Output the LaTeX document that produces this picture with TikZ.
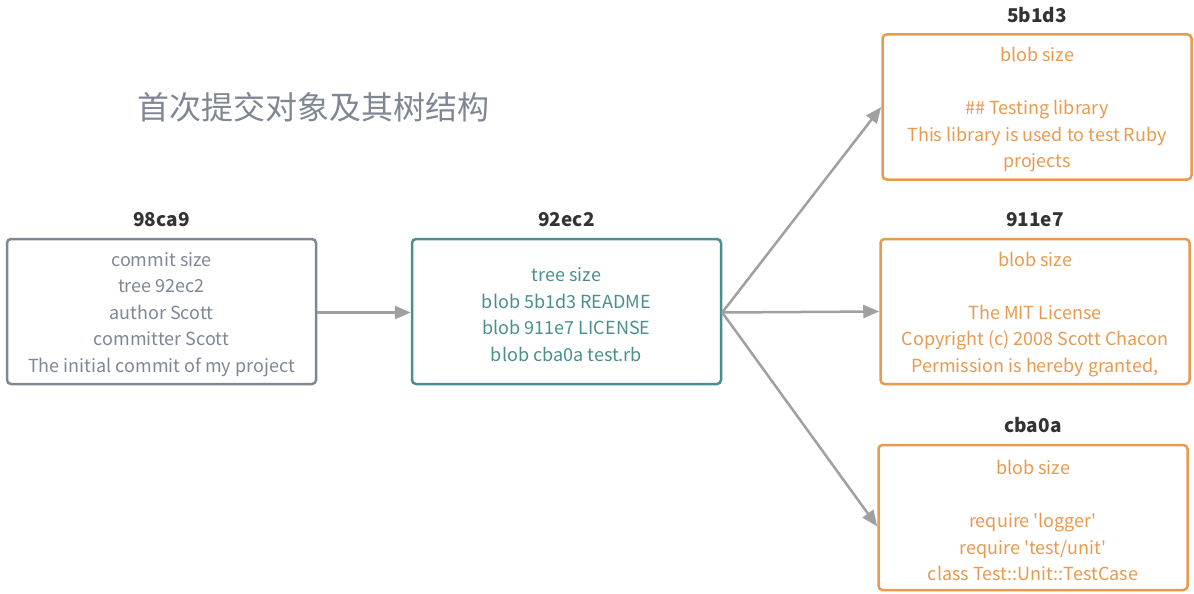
\documentclass[tikz,border=0pt]{standalone}
\usepackage{fontspec}
\setmainfont{Noto Sans CJK SC}[Ligatures=TeXOff]
\usetikzlibrary{arrows.meta,calc}
\definecolor{cgray}{HTML}{7F8794}
\definecolor{cteal}{HTML}{4A8F8F}
\definecolor{corange}{HTML}{E89A50}
\definecolor{carrow}{HTML}{A0A0A0}
\definecolor{ctitle}{HTML}{333333}
\begin{document}
\begin{tikzpicture}[x=1pt,y=-1pt,
  obj/.style={draw, rectangle, rounded corners=4pt, line width=2.5pt,
    minimum width=309pt, minimum height=145pt, inner sep=0pt, fill=white},
  commitbox/.style={obj, draw=cgray},
  treebox/.style={obj, draw=cteal},
  blobbox/.style={obj, draw=corange},
  txt/.style={inner sep=0pt, align=center, font=\fontsize{18}{26.5}\selectfont},
  ttl/.style={anchor=base, font=\fontsize{19}{22}\selectfont\bfseries, text=ctitle, inner sep=0pt},
  conn/.style={draw=carrow, line width=2.5pt, -{Triangle[length=16pt,width=13pt]}}
]
\useasboundingbox (0,0) rectangle (1194,594);
\node[commitbox] (c) at (161.5,311.5) {};
\node[treebox] (t) at (566.5,311.5) {};
\node[blobbox] (b1) at (1037,107) {};
\node[blobbox] (b2) at (1035,311.5) {};
\node[blobbox] (b3) at (1033,517.5) {};
\node[txt, text=cgray] (ct) at ([yshift=-3pt]c.center) {commit size\\tree 92ec2\\author Scott\\committer Scott\\The initial commit of my project};
\node[txt, text=cteal] (tt) at ([yshift=-3pt]t.center) {tree size\\blob 5b1d3 README\\blob 911e7 LICENSE\\blob cba0a test.rb};
\node[txt, text=corange] (b1t) at ([yshift=-3pt]b1.center) {blob size\\ \\\#\# Testing library\\This library is used to test Ruby\\projects};
\node[txt, text=corange] (b2t) at ([yshift=-3pt]b2.center) {blob size\\ \\The MIT License\\Copyright (c) 2008 Scott Chacon\\Permission is hereby granted,};
\node[txt, text=corange] (b3t) at ([yshift=-3pt]b3.center) {blob size\\ \\require 'logger'\\require 'test/unit'\\class Test::Unit::TestCase};
\node[ttl] (tc) at ([yshift=11pt]c.north) {98ca9};
\node[ttl] (ttn) at ([yshift=11pt]t.north) {92ec2};
\node[ttl] (tb1) at ([yshift=11pt]b1.north) {5b1d3};
\node[ttl] (tb2) at ([yshift=11pt]b2.north) {911e7};
\node[ttl] (tb3) at ([yshift=11pt]b3.north) {cba0a};
\node[text=cgray, font=\fontsize{32}{36}\selectfont, inner sep=0pt] (head) at (313,107) {首次提交对象及其树结构};
\draw[conn] ([yshift=-1pt]c.east) -- ([yshift=-1pt]t.west);
\draw[conn] ([yshift=-1pt]t.east) -- (b1.west);
\draw[conn] ([yshift=-1pt]t.east) -- (b2.west);
\draw[conn] ([yshift=-1pt]t.east) -- ([yshift=-9pt]b3.west);
\end{tikzpicture}
\end{document}
